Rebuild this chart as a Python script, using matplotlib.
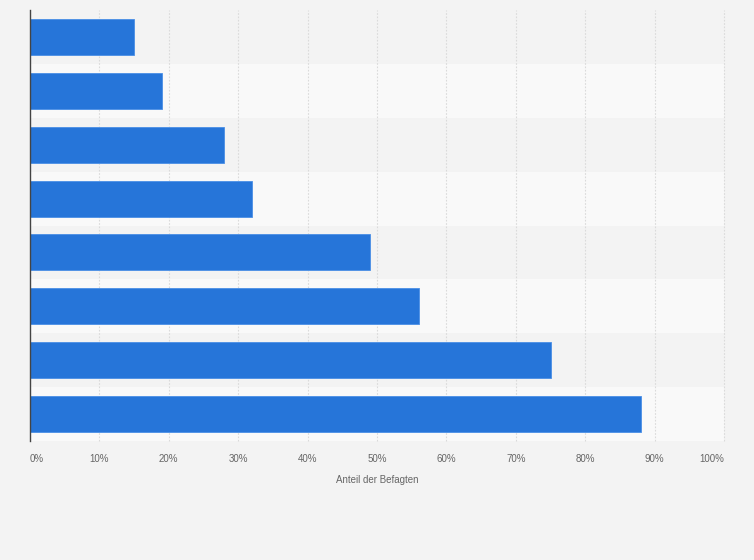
import matplotlib
matplotlib.use("Agg")
import matplotlib.pyplot as plt
import numpy as np

categories = ["A", "B", "C", "D", "E", "F", "G", "H"]  # top to bottom (no labels shown)
values = [15, 19, 28, 32, 49, 56, 75, 88]
tick_values = [0, 10, 20, 30, 40, 50, 60, 70, 80, 90, 100]
tick_labels = [f"{v}%" for v in tick_values]
xlabel = "Anteil der Befagten"

W, H = 754, 560
fig = plt.figure(figsize=(W / 100, H / 100), dpi=100)
fig.patch.set_facecolor("#f3f3f3")
ax = fig.add_axes([30 / W, 1 - 441 / H, (724 - 30) / W, (441 - 10) / H])
ax.set_facecolor("#f3f3f3")

n = len(categories)
y = np.arange(n)
ax.set_ylim(n - 0.5, -0.5)
ax.set_xlim(0, 100)

# alternating bands
for i in range(n):
    if i % 2 == 1:
        ax.axhspan(i - 0.5, i + 0.5, color="#f9f9f9", zorder=0, lw=0)

# grid
for t in tick_values[1:]:
    ax.axvline(t, color="#dadada", lw=0.8, ls=(0, (1.5, 1.5)), zorder=1, clip_on=False)

ax.barh(y, values, height=0.67, color="#2675d9", edgecolor="#4a8fe6", linewidth=0.6, zorder=2)

for s in ["top", "right", "bottom"]:
    ax.spines[s].set_visible(False)
ax.spines["left"].set_color("#444444")
ax.spines["left"].set_linewidth(1)
ax.spines["left"].set_zorder(3)

ax.set_yticks([])
ax.set_xticks(tick_values)
ax.set_xticklabels(tick_labels, fontsize=7, color="#666666", family="Liberation Sans")
ax.tick_params(axis="x", length=0, pad=9)
lbls = ax.get_xticklabels()
lbls[0].set_ha("left")
lbls[-1].set_ha("right")
ax.set_xlabel(xlabel, fontsize=7, color="#666666", labelpad=8, family="Liberation Sans")

fig.savefig("out.png", dpi=100, facecolor=fig.get_facecolor())
